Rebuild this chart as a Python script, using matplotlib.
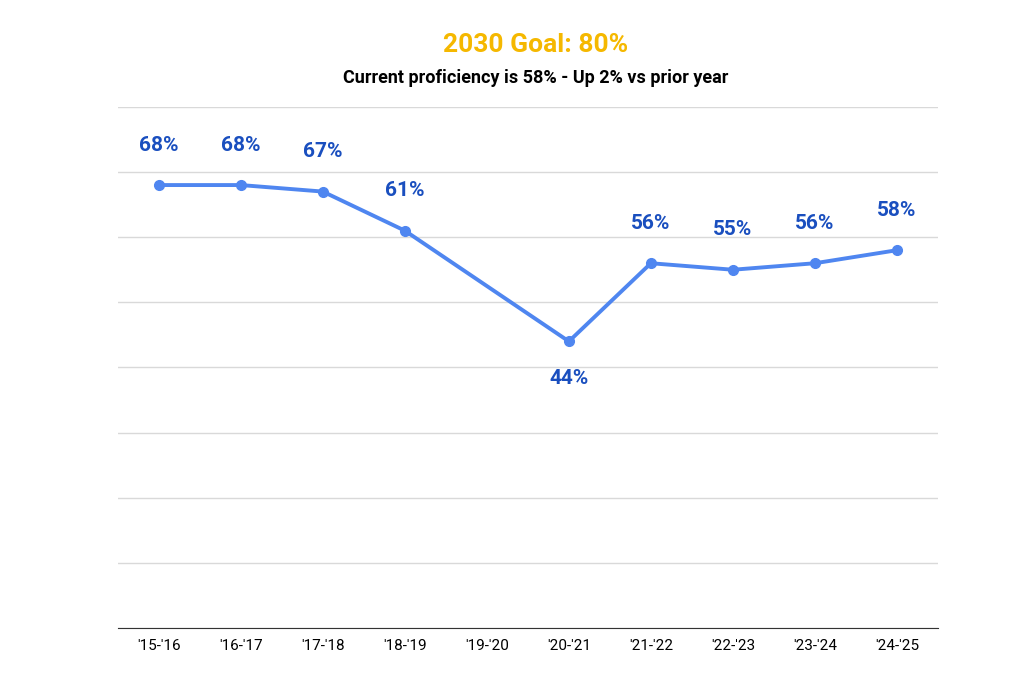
import matplotlib.pyplot as plt

years = ["'15-'16", "'16-'17", "'17-'18", "'18-'19", "'19-'20",
         "'20-'21", "'21-'22", "'22-'23", "'23-'24", "'24-'25"]
proficiency = [68, 68, 67, 61, None, 44, 56, 55, 56, 58]

plt.rcParams['font.family'] = ['Roboto', 'DejaVu Sans']

fig = plt.figure(figsize=(10.24, 6.83), dpi=100)
ax = fig.add_axes([0.115, 0.0805, 0.801, 0.763])

xs = [i for i, v in enumerate(proficiency) if v is not None]
ys = [v for v in proficiency if v is not None]
ax.plot(xs, ys, color='#4f86f0', lw=2.8, marker='o', ms=7, zorder=3)

for x, y in zip(xs, ys):
    below = y == 44
    ax.annotate(f'{y}%', (x, y), xytext=(0, -20 if below else 22),
                textcoords='offset points', ha='center',
                va='top' if below else 'bottom',
                fontsize=15, fontweight='bold', color='#1a4fbf')

ax.set_xlim(-0.5, 9.5)
ax.set_ylim(0, 80)
ax.set_yticks(range(0, 81, 10))
ax.set_yticklabels([])
ax.tick_params(axis='y', length=0)
ax.tick_params(axis='x', length=0, labelsize=11, pad=8)
ax.set_xticks(range(len(years)))
ax.set_xticklabels(years)
ax.grid(axis='y', color='#d9d9d9', lw=1)
for s in ['top', 'right', 'left']:
    ax.spines[s].set_visible(False)
ax.spines['bottom'].set_color('#333333')

fig.text(0.523, 0.934, '2030 Goal: 80%', ha='center', va='center',
         fontsize=19, fontweight='bold', color='#f5b800')
fig.text(0.523, 0.886, 'Current proficiency is 58% - Up 2% vs prior year',
         ha='center', va='center', fontsize=13, fontweight='bold', color='black')

fig.savefig('out.png', dpi=100)
